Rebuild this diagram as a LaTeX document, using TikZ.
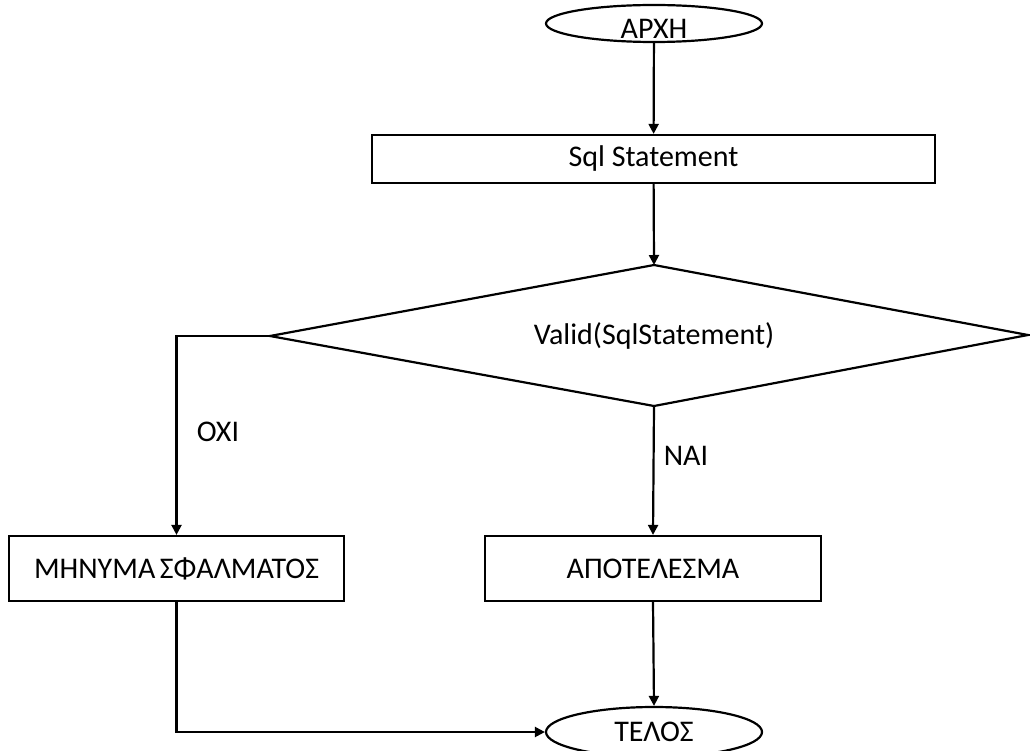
\documentclass[tikz,border=0pt]{standalone}
\usepackage{fontspec}
\setmainfont{Carlito}
\usetikzlibrary{shapes.geometric,arrows.meta}
\tikzset{
  base/.style={font=\fontsize{30}{36}\selectfont, line width=2.2pt, draw=black, inner sep=0pt},
  terminal/.style={base, ellipse, minimum width=216pt},
  procbox/.style={base, rectangle},
  flow/.style={line width=2.2pt, -{Triangle[length=10pt,width=10pt]}},
  plain/.style={line width=2.2pt},
  tag/.style={font=\fontsize{30}{36}\selectfont, inner sep=0pt}
}
\begin{document}
\begin{tikzpicture}[x=1pt,y=-1pt]
\useasboundingbox (0,0) rectangle (1030,751);
% start and end terminals
\node[terminal, minimum height=37pt] (start) at (654,23.5) {};
\node[tag] (starttext) at (654,29) {ΑΡΧΗ};
\node[terminal, minimum height=50pt] (end) at (654,732) {ΤΕΛΟΣ};
% process boxes
\node[procbox, minimum width=563pt, minimum height=48pt] (sql) at (653.5,159) {Sql Statement};
\node[procbox, minimum width=335pt, minimum height=65pt] (err) at (176.5,568.5) {\spaceskip=4.5pt ΜΗΝΥΜΑ ΣΦΑΛΜΑΤΟΣ};
\node[procbox, minimum width=336pt, minimum height=65pt] (res) at (653,568.5) {ΑΠΟΤΕΛΕΣΜΑ};
% decision
\coordinate (dtop) at (654,265);
\coordinate (dright) at (1028,335);
\coordinate (dbot) at (654,406);
\coordinate (dleft) at (270,336);
\draw[plain, line join=miter] (dtop) -- (dright) -- (dbot) -- (dleft) -- cycle;
\node[tag] (cond) at (654,336) {Valid(SqlStatement)};
% connectors
\draw[flow] (start) -- (sql);
\draw[flow] (sql) -- (dtop);
\draw[flow] (dleft) -| (err.north);
\draw[flow] (dbot) -- (res.north);
\draw[flow] (err.south) |- (end.west);
\draw[flow] (res.south) -- (end.north);
% branch labels
\node[tag] (no) at (218,432) {ΟΧΙ};
\node[tag] (yes) at (686,456) {ΝΑΙ};
\end{tikzpicture}
\end{document}
